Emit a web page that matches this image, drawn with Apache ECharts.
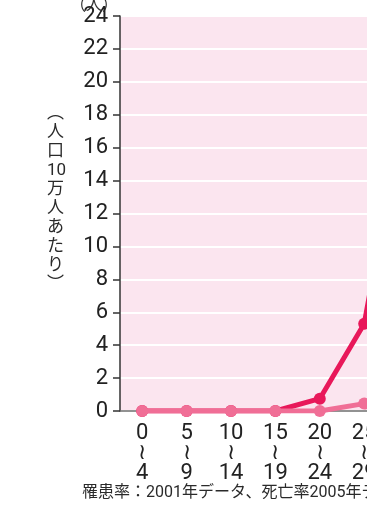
<!DOCTYPE html>
<html>
<head>
<meta charset="utf-8">
<script src="https://cdn.jsdelivr.net/npm/echarts@6/dist/echarts.min.js"></script>
<style>
  html, body { margin: 0; padding: 0; background: #fff; }
  #chart { width: 367px; height: 506px; }
</style>
</head>
<body>
<div id="chart"></div>
<script>
// age groups (only the first six fit in the window, the rest run off to the right)
const ageFrom = ['0', '5', '10', '15', '20', '25', '30']
const ageTo = ['4', '9', '14', '19', '24', '29', '34']
const categories = ageFrom.map((a, i) => a + '\n≀\n' + ageTo[i])

// per 100,000 people
const incidence = [0, 0, 0, 0, 0.75, 5.3, 20]
const mortality = [0, 0, 0, 0, 0, 0.45, 1.2]

const yMin = 0
const yMax = 24
const yStep = 2

const numFont = 'Roboto, "Noto Sans CJK JP", sans-serif'
const jpFont = '"Noto Sans CJK JP", sans-serif'

const chart = echarts.init(document.getElementById('chart'))

chart.setOption({
  animation: false,
  grid: {
    left: 120,
    top: 16,
    height: 395,
    width: 44.4 * categories.length,
    show: true,
    backgroundColor: '#fbe5ef',
    borderWidth: 0,
    containLabel: false,
    outerBoundsMode: 'none'
  },
  xAxis: {
    type: 'category',
    data: categories,
    boundaryGap: true,
    axisLine: { lineStyle: { color: '#6f6f6f', width: 1.5 } },
    axisTick: { alignWithLabel: true, length: 6, lineStyle: { color: '#444', width: 1.5 } },
    axisLabel: {
      color: '#222',
      fontFamily: numFont,
      fontSize: 22,
      lineHeight: 20,
      margin: 12,
      interval: 0
    },
    splitLine: { show: false }
  },
  yAxis: {
    type: 'value',
    min: yMin,
    max: yMax,
    interval: yStep,
    axisLine: { show: true, lineStyle: { color: '#333', width: 1.5 } },
    axisTick: { show: true, length: 7, lineStyle: { color: '#333', width: 1.5 } },
    axisLabel: {
      color: '#222',
      fontFamily: numFont,
      fontSize: 22,
      margin: 12
    },
    splitLine: { show: true, lineStyle: { color: '#ffffff', width: 2 } }
  },
  graphic: [
    {
      type: 'text',
      left: 70,
      top: -4,
      style: { text: '（人）', font: '16px ' + jpFont, fill: '#333' }
    },
    {
      type: 'text',
      left: 47,
      top: 104,
      style: {
        text: '︵\n人\n口\n10\n万\n人\nあ\nた\nり\n︶',
        font: '17px Roboto, "Noto Sans CJK JP", sans-serif',
        fill: '#2a2a2a',
        align: 'center',
        lineHeight: 19
      }
    },
    {
      type: 'text',
      left: 82,
      top: 485,
      style: {
        text: '罹患率：2001年データ、死亡率2005年データ',
        font: '16px Roboto, "Noto Sans CJK JP", sans-serif',
        fill: '#2a2a2a'
      }
    }
  ],
  series: [
    {
      name: '罹患率',
      type: 'line',
      data: incidence,
      symbol: 'circle',
      symbolSize: 12,
      lineStyle: { color: '#e8185a', width: 5 },
      itemStyle: { color: '#e8185a' },
      z: 2
    },
    {
      name: '死亡率',
      type: 'line',
      data: mortality,
      symbol: 'circle',
      symbolSize: 12,
      lineStyle: { color: '#f06e96', width: 5 },
      itemStyle: { color: '#f06e96' },
      z: 3
    }
  ]
})
</script>
</body>
</html>
